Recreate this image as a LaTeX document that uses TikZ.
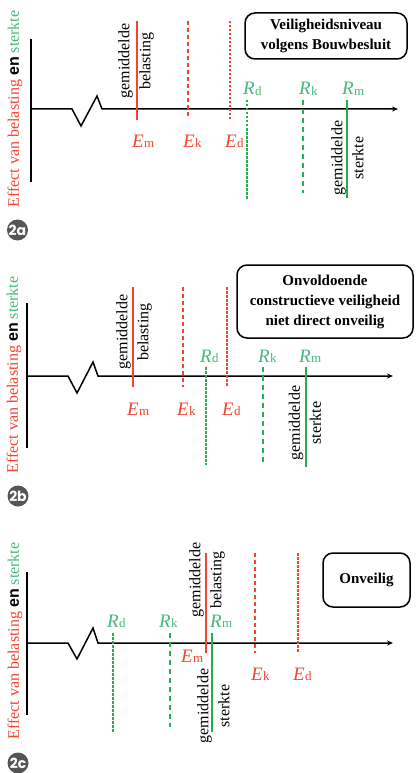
\documentclass[tikz,border=0pt]{standalone}
\usepackage{fontspec}
\setmainfont{Liberation Serif}
\newfontfamily\badgefont{Poppins}
\newfontfamily\arialfont{Liberation Sans}
\usetikzlibrary{arrows.meta}
\definecolor{lred}{RGB}{242,68,48}
\definecolor{lgreen}{RGB}{35,175,80}
\definecolor{tgreen}{RGB}{70,185,125}
\definecolor{badgegray}{RGB}{85,85,85}
\newcommand{\qsym}[2]{{\fontsize{19}{19}\selectfont\itshape #1}\kern0.3pt\raisebox{-0.2ex}{\fontsize{13}{13}\selectfont #2}}
\newcommand{\ylabtext}{{\color{lred}Effect van belasting} {\arialfont\bfseries en} {\color{tgreen}sterkte}}
\tikzset{
  axisline/.style={line width=1.5pt, black, line join=miter},
  axisarrow/.style={axisline, -{Stealth[length=6pt,width=5pt]}},
  meanE/.style={line width=2.5pt, lred},
  charE/.style={line width=1.3pt, lred, dash pattern=on 4pt off 3pt},
  desE/.style={line width=1.3pt, lred, dash pattern=on 2.5pt off 1.5pt},
  desR/.style={line width=1.3pt, lgreen, dash pattern=on 2.5pt off 1.5pt},
  charR/.style={line width=1.3pt, lgreen, dash pattern=on 5pt off 4pt},
  meanR/.style={line width=2.5pt, lgreen},
  elabel/.style={text=lred, anchor=base west, inner sep=0},
  rlabel/.style={text=tgreen, anchor=base west, inner sep=0},
  vtext/.style={rotate=90, align=center, font=\fontsize{16}{21}\selectfont, inner sep=0},
  statebox/.style={draw, line width=1.5pt, rounded corners=10pt, font=\fontsize{15}{20}\selectfont\bfseries, align=center, inner sep=0},
  ylab/.style={rotate=90, font=\fontsize{16}{16}\selectfont, inner sep=0},
  badge/.style={circle, fill=badgegray, text=white, minimum size=21pt, inner sep=0, font=\badgefont\bfseries\fontsize{14}{14}\selectfont}
}
\begin{document}
\begin{tikzpicture}[x=1pt,y=-1pt]
\useasboundingbox (0,0) rectangle (415,773);
\fill[white] (0,0) rectangle (415,773);

% ---------------- Panel 2a ----------------
\coordinate (aYt) at (31,39);
\coordinate (aYb) at (31,182);
\coordinate (aO) at (31,109);
\coordinate (aZ1) at (72,109);
\coordinate (aZ2) at (81,126);
\coordinate (aZ3) at (97,96);
\coordinate (aZ4) at (102,109);
\coordinate (aX) at (398,109);
\draw[axisline] (aYt) -- (aYb);
\draw[axisarrow] (aO) -- (aZ1) -- (aZ2) -- (aZ3) -- (aZ4) -- (aX);
\coordinate (aEmT) at (137,21); \coordinate (aEmB) at (137,120);
\coordinate (aEkT) at (188,21); \coordinate (aEkB) at (188,119);
\coordinate (aEdT) at (230,21); \coordinate (aEdB) at (230,119);
\coordinate (aRdT) at (247,100); \coordinate (aRdB) at (247,200);
\coordinate (aRkT) at (303,100); \coordinate (aRkB) at (303,193);
\coordinate (aRmT) at (347,100); \coordinate (aRmB) at (347,198);
\draw[meanE] (aEmT) -- (aEmB);
\draw[charE] (aEkT) -- (aEkB);
\draw[desE] (aEdT) -- (aEdB);
\draw[desR] (aRdT) -- (aRdB);
\draw[charR] (aRkT) -- (aRkB);
\draw[meanR] (aRmT) -- (aRmB);
\node[elabel] (aEm) at (132,147) {\qsym{E}{m}};
\node[elabel] (aEk) at (183,147) {\qsym{E}{k}};
\node[elabel] (aEd) at (225,147) {\qsym{E}{d}};
\node[rlabel] (aRd) at (243,95) {\qsym{R}{d}};
\node[rlabel] (aRk) at (299,95) {\qsym{R}{k}};
\node[rlabel] (aRm) at (342,95) {\qsym{R}{m}};
\node[vtext] (aBel) at (136,61) {gemiddelde\\belasting};
\node[vtext] (aSte) at (347.5,158) {gemiddelde\\sterkte};
\node[statebox, minimum width=162pt, minimum height=46pt] (aBox) at (326,36) {Veiligheidsniveau\\volgens Bouwbesluit};
\node[ylab] (aY) at (15,109) {\ylabtext};
\node[badge] (aTag) at (17.5,230) {2a};

% ---------------- Panel 2b ----------------
\coordinate (bYt) at (27,303);
\coordinate (bYb) at (27,448);
\coordinate (bO) at (27,376);
\coordinate (bZ1) at (68,376);
\coordinate (bZ2) at (77,393);
\coordinate (bZ3) at (93,362);
\coordinate (bZ4) at (98,376);
\coordinate (bX) at (393,376);
\draw[axisline] (bYt) -- (bYb);
\draw[axisarrow] (bO) -- (bZ1) -- (bZ2) -- (bZ3) -- (bZ4) -- (bX);
\coordinate (bEmT) at (133,287); \coordinate (bEmB) at (133,387);
\coordinate (bEkT) at (183,287); \coordinate (bEkB) at (183,387);
\coordinate (bEdT) at (227,287); \coordinate (bEdB) at (227,387);
\coordinate (bRdT) at (206,367); \coordinate (bRdB) at (206,465);
\coordinate (bRkT) at (263,367); \coordinate (bRkB) at (263,462);
\coordinate (bRmT) at (306,367); \coordinate (bRmB) at (306,467);
\draw[meanE] (bEmT) -- (bEmB);
\draw[charE] (bEkT) -- (bEkB);
\draw[desE] (bEdT) -- (bEdB);
\draw[desR] (bRdT) -- (bRdB);
\draw[charR] (bRkT) -- (bRkB);
\draw[meanR] (bRmT) -- (bRmB);
\node[elabel] (bEm) at (127,415) {\qsym{E}{m}};
\node[elabel] (bEk) at (177,415) {\qsym{E}{k}};
\node[elabel] (bEd) at (222,415) {\qsym{E}{d}};
\node[rlabel] (bRd) at (200,362) {\qsym{R}{d}};
\node[rlabel] (bRk) at (258,362) {\qsym{R}{k}};
\node[rlabel] (bRm) at (299,362) {\qsym{R}{m}};
\node[vtext] (bBel) at (134,332) {gemiddelde\\belasting};
\node[vtext] (bSte) at (305,423) {gemiddelde\\sterkte};
\node[statebox, minimum width=176pt, minimum height=73pt] (bBox) at (325,301.5) {Onvoldoende\\constructieve veiligheid\\niet direct onveilig};
\node[ylab] (bY) at (14,375) {\ylabtext};
\node[badge] (bTag) at (18,496) {2b};

% ---------------- Panel 2c ----------------
\coordinate (cYt) at (27,572);
\coordinate (cYb) at (27,715);
\coordinate (cO) at (27,643);
\coordinate (cZ1) at (68,643);
\coordinate (cZ2) at (77,659);
\coordinate (cZ3) at (93,628);
\coordinate (cZ4) at (98,643);
\coordinate (cX) at (393,643);
\draw[axisline] (cYt) -- (cYb);
\draw[axisarrow] (cO) -- (cZ1) -- (cZ2) -- (cZ3) -- (cZ4) -- (cX);
\coordinate (cEmT) at (206,553); \coordinate (cEmB) at (206,653);
\coordinate (cEkT) at (255,553); \coordinate (cEkB) at (255,653);
\coordinate (cEdT) at (298,553); \coordinate (cEdB) at (298,653);
\coordinate (cRdT) at (113,633); \coordinate (cRdB) at (113,733);
\coordinate (cRkT) at (170,633); \coordinate (cRkB) at (170,727);
\coordinate (cRmT) at (212,633); \coordinate (cRmB) at (212,732);
\draw[meanE] (cEmT) -- (cEmB);
\draw[charE] (cEkT) -- (cEkB);
\draw[desE] (cEdT) -- (cEdB);
\draw[desR] (cRdT) -- (cRdB);
\draw[charR] (cRkT) -- (cRkB);
\draw[meanR] (cRmT) -- (cRmB);
\node[elabel] (cEm) at (181,662) {\qsym{E}{m}};
\node[elabel] (cEk) at (251,680) {\qsym{E}{k}};
\node[elabel] (cEd) at (293,680) {\qsym{E}{d}};
\node[rlabel] (cRd) at (107,627) {\qsym{R}{d}};
\node[rlabel] (cRk) at (159,627) {\qsym{R}{k}};
\node[rlabel] (cRm) at (210,627) {\qsym{R}{m}};
\node[vtext] (cBel) at (207,580) {gemiddelde\\belasting};
\node[vtext] (cSte) at (213.5,706) {gemiddelde\\sterkte};
\node[statebox, minimum width=87pt, minimum height=54pt] (cBox) at (366.5,580) {Onveilig};
\node[ylab] (cY) at (15,641) {\ylabtext};
\node[badge] (cTag) at (18,763) {2c};
\end{tikzpicture}
\end{document}
